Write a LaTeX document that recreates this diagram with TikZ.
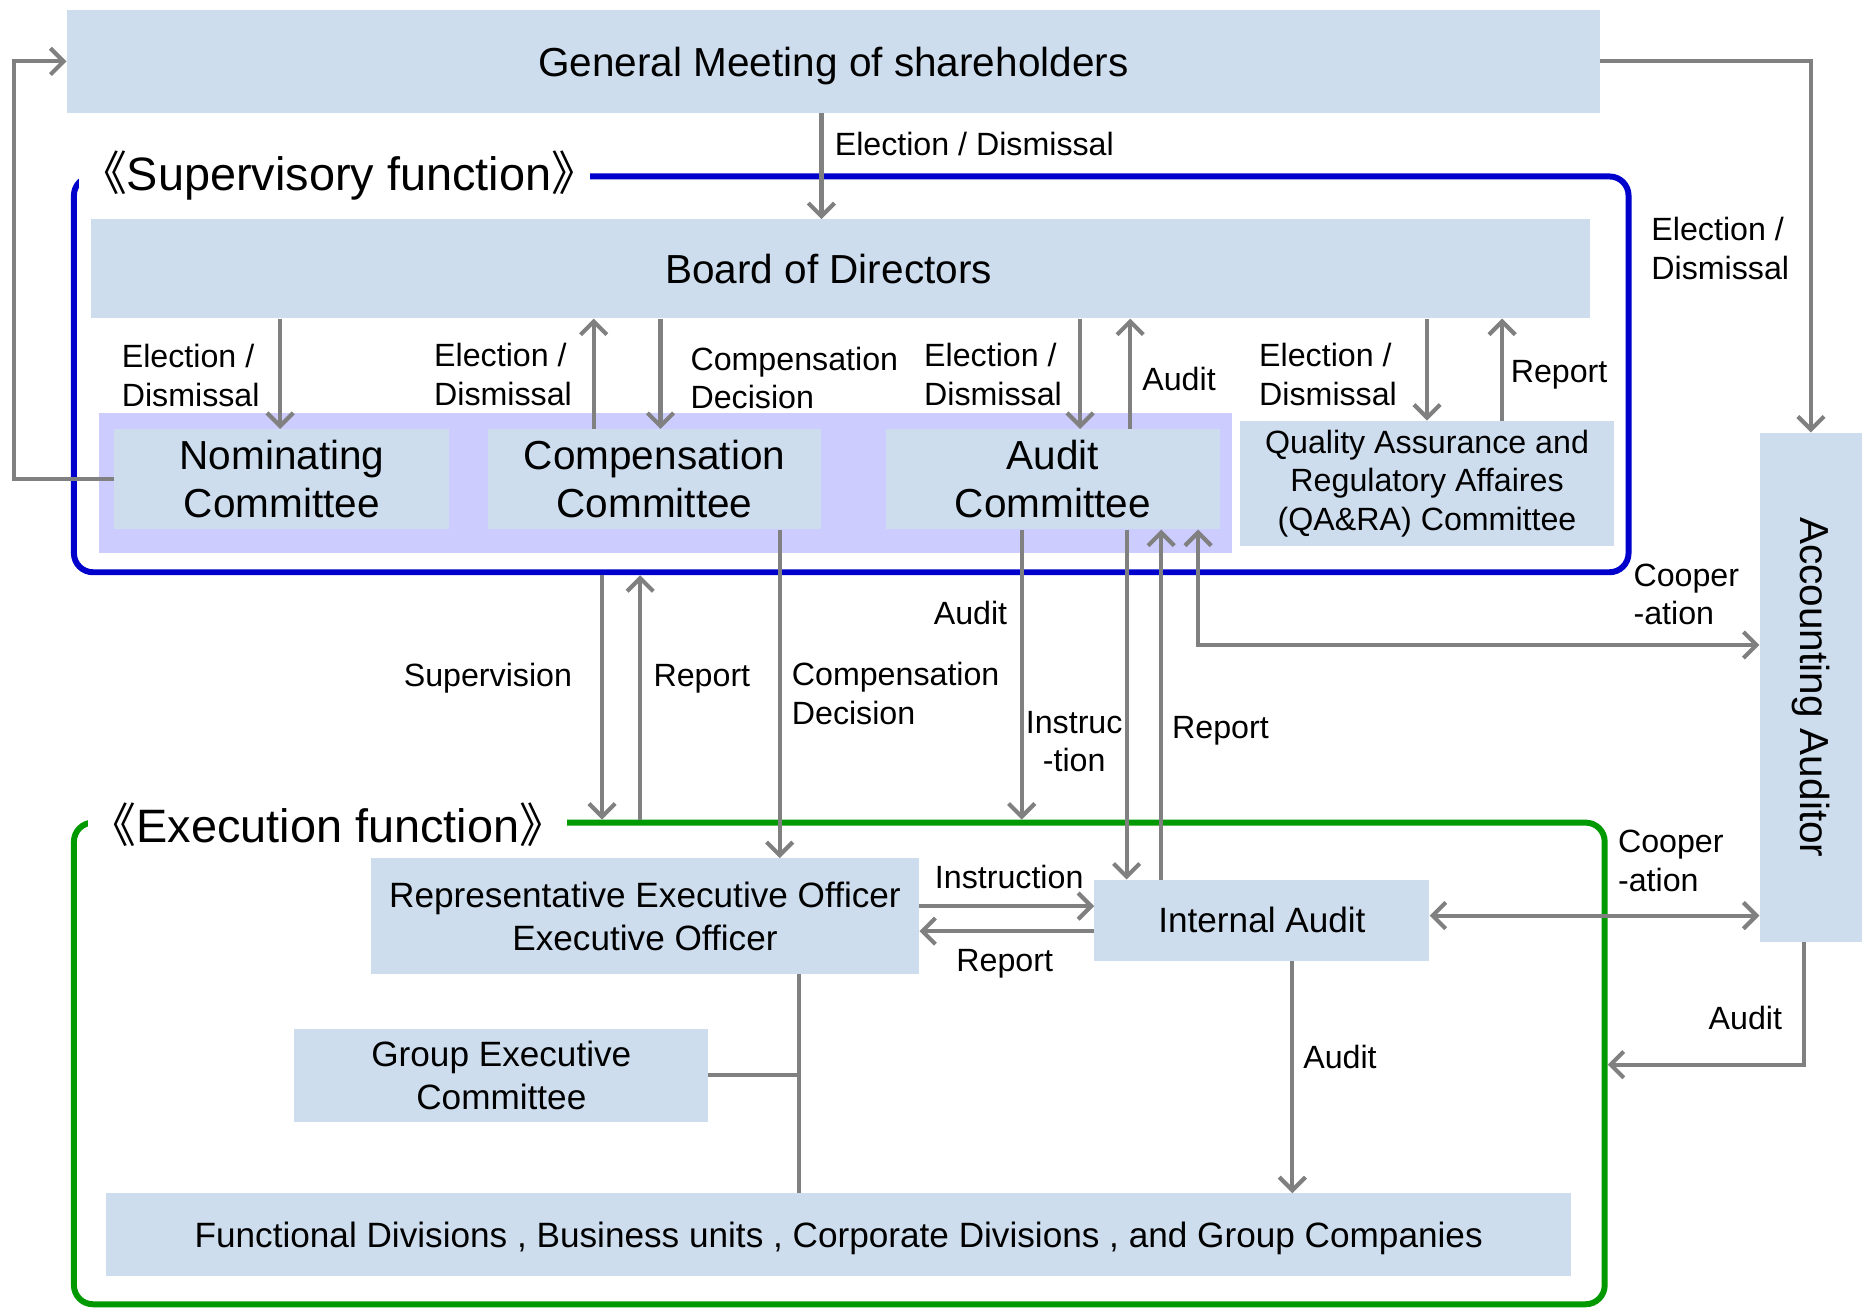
\documentclass[tikz,border=0pt]{standalone}
\usepackage{fontspec}
\setmainfont{Liberation Sans}
\newfontfamily\cjkf{Noto Sans CJK SC}
\usetikzlibrary{arrows.meta}
\definecolor{boxblue}{RGB}{205,221,238}
\definecolor{bgpurple}{RGB}{204,204,255}
\definecolor{supblue}{RGB}{0,0,204}
\definecolor{exgreen}{RGB}{0,153,0}
\definecolor{arrgray}{RGB}{128,128,128}
\newcommand\fsbig{\fontsize{34}{40}\selectfont}
\newcommand\fsmid{\fontsize{29.5}{36}\selectfont}
\newcommand\fslbl{\fontsize{27}{32.5}\selectfont}
\newcommand\fsttl{\fontsize{39.3}{45}\selectfont}
\begin{document}
\begin{tikzpicture}[x=1pt,y=-1pt,
 box/.style={fill=boxblue,inner sep=0pt,align=center,text=black},
 frame/.style={line width=5pt,rounded corners=16pt,inner sep=0pt},
 arr/.style={draw=arrgray,line width=3.5pt,-{Straight Barb[length=11pt,width=22pt]}},
 darr/.style={draw=arrgray,line width=3.5pt,{Straight Barb[length=11pt,width=22pt]}-{Straight Barb[length=11pt,width=22pt]}},
 ln/.style={draw=arrgray,line width=3.5pt},
 lbl/.style={font=\fslbl,inner sep=0pt,align=left},
 ttl/.style={font=\fsttl,fill=white,inner xsep=0pt,inner ysep=2pt}]
\useasboundingbox (0,0) rectangle (1567.7,1099.7);
% frames
\node[frame,draw=supblue,minimum width=1304pt,minimum height=332pt] (supf) at (714,314) {};
\node[frame,draw=exgreen,minimum width=1284pt,minimum height=404pt] (exf) at (704,892) {};
\node[fill=bgpurple,inner sep=0pt,minimum width=950pt,minimum height=118pt] (bg) at (558,405) {};
% boxes
\node[box,font=\fsbig,text depth=0pt,minimum width=1286pt,minimum height=87pt] (gm) at (699,51.5) {General Meeting of shareholders};
\node[box,font=\fsbig,minimum width=1258pt,minimum height=83pt] (board) at (705,225.5) {Board of Directors\hspace*{20pt}};
\node[box,font=\fsbig,minimum width=281pt,minimum height=84pt] (nom) at (236.5,402) {Nominating\\Committee};
\node[box,font=\fsbig,minimum width=280pt,minimum height=84pt] (comp) at (549,402) {Compensation\\Committee};
\node[box,font=\fsbig,minimum width=280pt,minimum height=84pt] (audc) at (883,402) {Audit\\Committee};
\node[box,font=\fslbl,minimum width=314pt,minimum height=105pt] (qa) at (1197,405.5) {Quality Assurance and\\Regulatory Affaires\\(QA\&RA) Committee};
\node[box,font=\fsbig,minimum width=86pt,minimum height=427pt] (aa) at (1519,576.5) {\rotatebox{-90}{Accounting Auditor}};
\node[box,font=\fsmid,minimum width=460pt,minimum height=97pt] (rep) at (541,768.5) {Representative Executive Officer\\Executive Officer};
\node[box,font=\fsmid,minimum width=281pt,minimum height=68pt] (ia) at (1058.5,772) {Internal Audit};
\node[box,font=\fsmid,minimum width=347pt,minimum height=78pt] (gec) at (420.5,902) {Group Executive\\Committee};
\node[box,font=\fsmid,text depth=0pt,minimum width=1229pt,minimum height=69pt] (fd) at (703.5,1035.5) {Functional Divisions , Business units , Corporate Divisions , and Group Companies};
% titles
\node[ttl,anchor=west,inner xsep=1pt] (suptl) at (66,147) {{\cjkf 《}Supervisory function{\cjkf 》}\hspace*{-8pt}};
\node[ttl,anchor=west,inner xsep=1pt] (extl) at (74,692) {{\cjkf 《}Execution function{\cjkf 》}};
% helper coordinates
\foreach \xx in {12,235,498,554,505,537,654,670,689,857,906,945,948,974,1005,1084,1197,1260,1513}
  \coordinate (x\xx) at (\xx,0);
\foreach \yy in {541,760,768,781,893}
  \coordinate (y\yy) at (0,\yy);
% connectors
\draw[arr] (gm.south -| x689) -- (board.north -| x689);
\draw[arr] (gm.east) -| (aa.north);
\draw[arr] (nom.west) -- (nom.west -| x12) |- (gm.west);
\draw[arr] (board.south -| x235) -- (nom.north -| x235);
\draw[arr] (comp.north -| x498) -- (board.south -| x498);
\draw[arr] (board.south -| x554) -- (comp.north -| x554);
\draw[arr] (board.south -| x906) -- (audc.north -| x906);
\draw[arr] (audc.north -| x948) -- (board.south -| x948);
\draw[arr] (board.south -| x1197) -- (qa.north -| x1197);
\draw[arr] (qa.north -| x1260) -- (board.south -| x1260);
\draw[arr] (supf.south -| x505) -- (exf.north -| x505);
\draw[arr] (exf.north -| x537) -- (supf.south -| x537);
\draw[arr] (comp.south -| x654) -- (rep.north -| x654);
\draw[arr] (audc.south -| x857) -- (exf.north -| x857);
\draw[arr] (audc.south -| x945) -- (ia.north -| x945);
\draw[arr] (ia.north -| x974) -- (audc.south -| x974);
\draw[darr] (audc.south -| x1005) |- (aa.west |- y541);
\draw[arr] (rep.east |- y760) -- (ia.west |- y760);
\draw[arr] (ia.west |- y781) -- (rep.east |- y781);
\draw[darr] (ia.east |- y768) -- (aa.west |- y768);
\draw[arr] (aa.south -| x1513) |- (exf.east |- y893);
\draw[arr] (ia.south -| x1084) -- (fd.north -| x1084);
\draw[ln] (rep.south -| x670) -- (fd.north -| x670);
\draw[ln] (gec.east) -- (gec.east -| x670);
% labels
\node[lbl,anchor=west] (l1) at (700,121) {Election / Dismissal};
\node[lbl,anchor=west] (l2) at (1385,208.5) {Election /\\Dismissal};
\node[lbl,anchor=west] (l3) at (102,315) {Election /\\Dismissal};
\node[lbl,anchor=west] (l4) at (364,314) {Election /\\Dismissal};
\node[lbl,anchor=west] (l5) at (579,317) {Compensation\\Decision};
\node[lbl,anchor=west] (l6) at (775,314) {Election /\\Dismissal};
\node[lbl,anchor=west] (l7) at (958,318) {Audit};
\node[lbl,anchor=west] (l8) at (1056,314) {Election /\\Dismissal};
\node[lbl,anchor=west] (l9) at (1267,314) {Report};
\node[lbl,anchor=east] (l10) at (480,569) {Supervision};
\node[lbl,anchor=west] (l11) at (548,569) {Report};
\node[lbl,anchor=west] (l12) at (664,582) {Compensation\\Decision};
\node[lbl,anchor=east] (l13) at (845,514) {Audit};
\node[lbl,align=center] (l14) at (901,622) {Instruc\\-tion};
\node[lbl,anchor=west] (l15) at (983,613) {Report};
\node[lbl,anchor=west] (l16) at (1370,498.5) {Cooper\\-ation};
\node[lbl,anchor=west] (l17) at (784,736) {Instruction};
\node[lbl,anchor=west] (l18) at (802,808) {Report};
\node[lbl,anchor=west] (l19) at (1357,722) {Cooper\\-ation};
\node[lbl,anchor=west] (l20) at (1433,854) {Audit};
\node[lbl,anchor=west] (l21) at (1093,887) {Audit};
\end{tikzpicture}
\end{document}
